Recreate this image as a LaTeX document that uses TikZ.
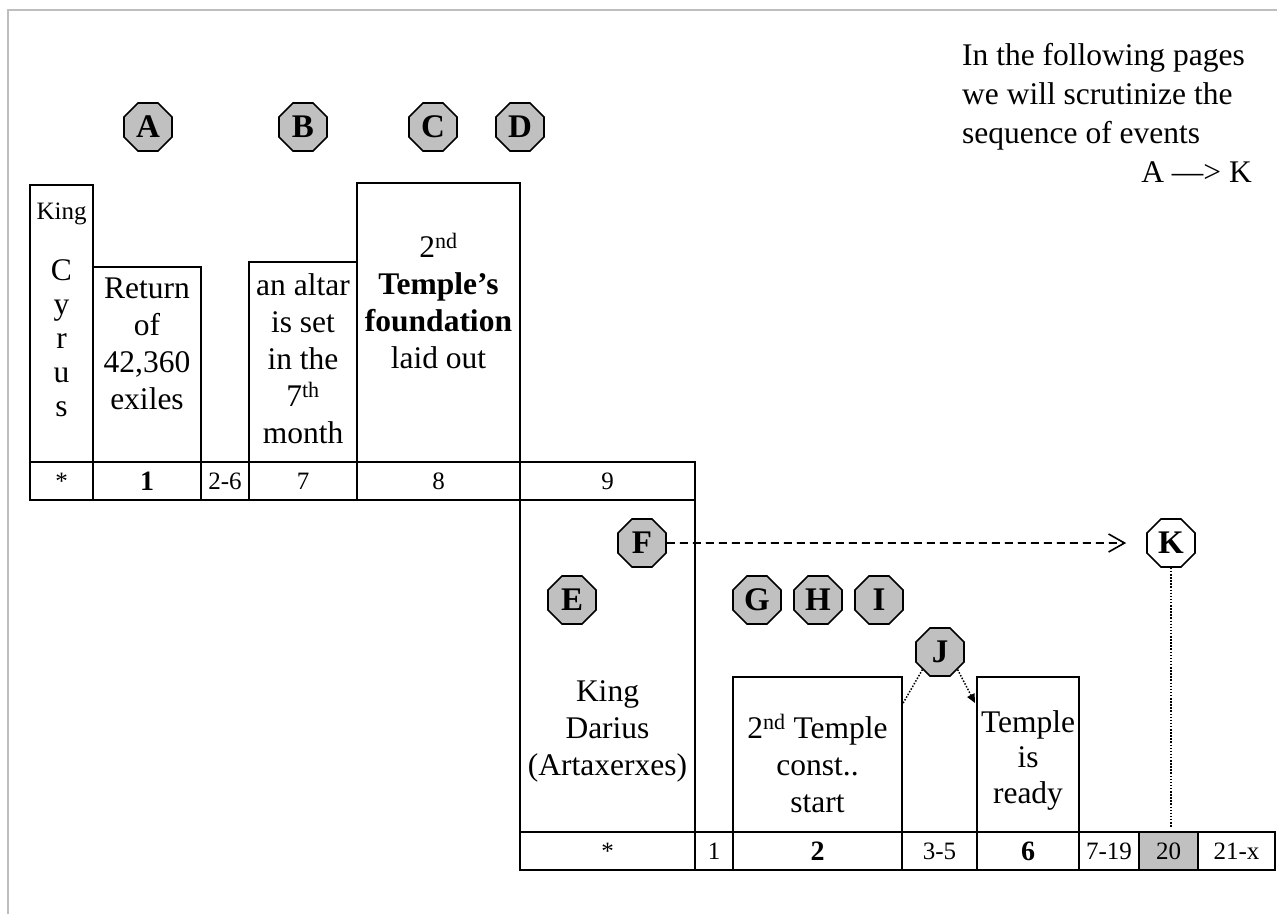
\documentclass[tikz,border=0pt]{standalone}
\usepackage{fontspec}
\setmainfont{Liberation Serif}
\usetikzlibrary{arrows.meta,positioning,calc,shapes.geometric}
\definecolor{octgray}{RGB}{192,192,192}
\definecolor{framegray}{RGB}{190,190,190}
\newcommand{\bigtxt}{\fontsize{31.5}{37}\selectfont}
\newcommand{\smalltxt}{\fontsize{25}{30}\selectfont}
\newcommand{\boldnum}{\fontsize{28}{30}\selectfont\bfseries}

\begin{document}
\begin{tikzpicture}[
  x=1pt,y=-1pt,
  font=\bigtxt,
  evt/.style={rectangle,draw,line width=1.8pt,inner sep=0pt,outer sep=0pt},
  cell/.style={rectangle,draw,line width=1.8pt,inner sep=0pt,outer sep=0pt,minimum height=38pt,font=\smalltxt},
  txt/.style={align=center,inner sep=0pt},
  oct/.style={regular polygon,regular polygon sides=8,draw,line width=1.6pt,fill=octgray,inner sep=0pt,minimum size=52pt,font=\fontsize{33}{37}\selectfont\bfseries},
  dots/.style={line width=1.5pt,dash pattern=on 1.5pt off 1.6pt},
  >=Latex
]
\useasboundingbox (0,0) rectangle (1277,914);
\draw[framegray,line width=2pt] (8,914) -- (8,10) -- (1277,10);

% first row and its boxes
\node[cell,minimum width=63pt,anchor=north west] (c0) at (30,462) {*};
\node[cell,minimum width=108pt,right=0pt of c0,font=\boldnum] (c1) {1};
\node[cell,minimum width=48pt,right=0pt of c1] (c2) {2-6};
\node[cell,minimum width=108pt,right=0pt of c2] (c3) {7};
\node[cell,minimum width=163pt,right=0pt of c3] (c4) {8};
\node[cell,minimum width=175pt,right=0pt of c4] (c5) {9};
\node[evt,minimum width=63pt,minimum height=277pt,above=0pt of c0] (cyrus) {};
\node[evt,minimum width=108pt,minimum height=195pt,above=0pt of c1] (ret) {};
\node[evt,minimum width=108pt,minimum height=200pt,above=0pt of c3] (altar) {};
\node[evt,minimum width=163pt,minimum height=279pt,above=0pt of c4] (found) {};
\node[txt,font=\smalltxt,below=18pt of cyrus.north] (cyrk) {King};
\node[txt,font={\fontsize{31.5}{34}\selectfont},below=74pt of cyrus.north] (cyrn) {C\\y\\r\\u\\s};
\node[txt,below=11pt of ret.north] (rett) {Return\\of\\42,360\\exiles};
\node[txt,below=11pt of altar.north] (altt) {an altar\\is set\\in the\\7\textsuperscript{th}\\month};
\node[txt,below=50pt of found.north] (fndt) {2\textsuperscript{nd}\\\textbf{Temple's}\\\textbf{foundation}\\laid out};

% second row and its boxes
\node[evt,minimum width=175pt,minimum height=332pt,below=0pt of c5] (darius) {};
\node[cell,minimum width=175pt,below=0pt of darius] (d0) {*};
\node[cell,minimum width=38pt,right=0pt of d0] (d1) {1};
\node[cell,minimum width=169pt,right=0pt of d1,font=\boldnum] (d2) {2};
\node[cell,minimum width=75pt,right=0pt of d2] (d3) {3-5};
\node[cell,minimum width=102pt,right=0pt of d3,font=\boldnum] (d4) {6};
\node[cell,minimum width=60pt,right=0pt of d4] (d5) {7-19};
\node[cell,minimum width=59pt,right=0pt of d5,fill=octgray] (d6) {20};
\node[cell,minimum width=77pt,right=0pt of d6] (d7) {21-x};
\node[evt,minimum width=169pt,minimum height=155pt,above=0pt of d2] (const) {};
\node[evt,minimum width=102pt,minimum height=155pt,above=0pt of d4] (ready) {};
\node[txt,below=180pt of darius.north] (dart) {King\\Darius\\(Artaxerxes)};
\node[txt,below=37pt of const.north] (cnst) {2\textsuperscript{nd} Temple\\const..\\start};
\node[txt,font={\fontsize{31.5}{35.5}\selectfont},below=33pt of ready.north] (rdyt) {Temple\\is\\ready};

% events
\node[oct] (A) at (148,127) {A};
\node[oct] (B) at (303,127) {B};
\node[oct] (C) at (433,127) {C};
\node[oct] (D) at (520,127) {D};
\node[oct] (E) at (572,600) {E};
\node[oct] (F) at (642,543) {F};
\node[oct] (G) at (757,600) {G};
\node[oct] (H) at (818,600) {H};
\node[oct] (I) at (879,600) {I};
\node[oct] (J) at (940,652) {J};
\node[oct,fill=white] (K) at (1171,543) {K};

\draw[line width=1.6pt,dash pattern=on 8pt off 5pt,-{Straight Barb[length=16pt,width=18pt]},shorten >=20pt] (F) -- (K);
\draw[dots,shorten >=5pt] (K) -- (K |- d6.north);
\draw[dots] (J.225) -- ($(const.north east)+(0,28)$);
\draw[dots,-{Triangle[length=9pt,width=8pt]}] (J.315) -- ($(ready.north west)+(-2,26)$);

\node[txt,align=left,anchor=north west,font={\fontsize{31.5}{39}\selectfont}] (note) at (962,43) {In the following pages\\we will scrutinize the\\sequence of events};
\node[txt,anchor=north east] (ak) at (1252,161) {A —> K};
\end{tikzpicture}
\end{document}
